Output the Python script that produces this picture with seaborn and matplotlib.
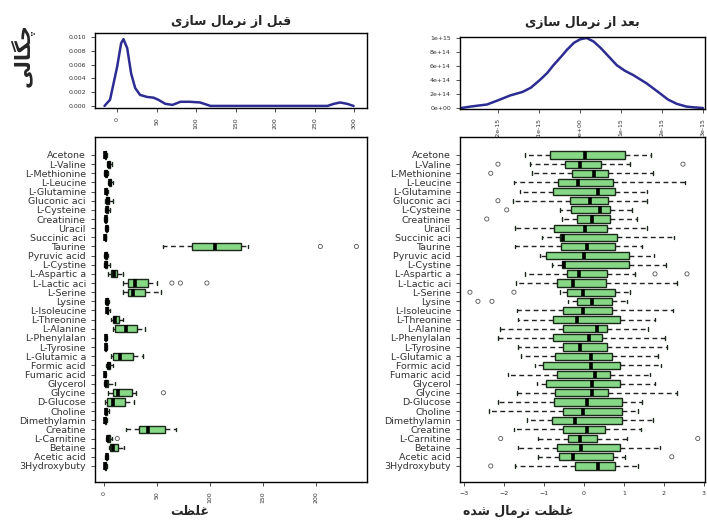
import numpy as np
import pandas as pd
import matplotlib
matplotlib.use("Agg")
import matplotlib.pyplot as plt
import seaborn as sns

# metabolite names, top to bottom (R truncates them to 12 chars)
names = ["Acetone", "L-Valine", "L-Methionine", "L-Leucine", "L-Glutamine",
         "Gluconic aci", "L-Cysteine", "Creatinine", "Uracil", "Succinic aci",
         "Taurine", "Pyruvic acid", "L-Cystine", "L-Aspartic a", "L-Lactic aci",
         "L-Serine", "Lysine", "L-Isoleucine", "L-Threonine", "L-Alanine",
         "L-Phenylalan", "L-Tyrosine", "L-Glutamic a", "Formic acid", "Fumaric acid",
         "Glycerol", "Glycine", "D-Glucose", "Choline", "Dimethylamin",
         "Creatine", "L-Carnitine", "Betaine", "Acetic acid", "3Hydroxybuty"]

# raw concentrations: whisker low, Q1, median, Q3, whisker high
raw_lo = [0.0, 2.5, 0.3, 3.5, 0.5, 0.5, 0.5, 0.0, 1.2, 0.0,
          56, 0.2, 0.2, 4.0, 18, 18, 0.5, 1.5, 7.0, 8.5,
          0.5, 0.5, 6.5, 1.5, 0.0, 0.0, 3.8, 1.0, 0.5, 0.0,
          21, 1.5, 4.5, 1.0, 0.0]
raw_q1 = [0.5, 4.0, 1.2, 4.5, 1.5, 2.0, 1.8, 0.8, 2.0, 0.6,
          83, 0.8, 1.0, 6.5, 23, 23, 1.5, 2.5, 8.0, 10.5,
          1.2, 1.2, 8.5, 3.0, 0.5, 1.0, 8.5, 3.0, 1.2, 0.6,
          33, 2.8, 6.0, 1.8, 0.6]
raw_med = [1.0, 5.0, 2.0, 5.5, 2.2, 3.5, 3.0, 1.5, 2.5, 1.0,
           105, 1.5, 2.0, 9.0, 29, 27, 2.5, 3.2, 10, 21,
           1.6, 1.7, 15, 4.5, 0.9, 2.0, 13, 8.5, 2.0, 1.2,
           41.5, 4.0, 8.0, 2.5, 1.2]
raw_q3 = [1.8, 6.0, 2.8, 6.5, 3.0, 5.0, 4.0, 2.2, 3.0, 1.5,
          129, 2.5, 3.2, 12.5, 41, 39, 3.8, 4.0, 14, 31,
          2.0, 2.1, 27, 6.0, 1.3, 3.5, 26, 20, 3.0, 1.8,
          57.5, 5.5, 13, 3.2, 1.8]
raw_hi = [2.8, 7.5, 3.8, 8.5, 4.0, 8.0, 5.5, 3.0, 4.0, 2.2,
          136, 3.5, 5.5, 18, 50, 54, 5.0, 5.2, 18, 39,
          2.8, 2.8, 37, 8.0, 2.0, 10, 30, 28, 4.5, 2.8,
          68, 7.5, 19, 4.0, 2.6]
raw_out_name = ["Taurine", "Taurine", "L-Lactic aci", "L-Lactic aci", "L-Lactic aci",
                "Glycine", "L-Carnitine"]
raw_out_val = [204, 238, 64, 72, 97, 56, 12.5]

# normalized concentrations
norm_lo = [-1.48, -1.35, -1.30, -1.75, -1.60, -1.78, -0.60, -0.55, -1.73, -1.05,
           -1.73, -1.10, -0.80, -1.48, -1.70, -0.60, -0.40, -1.68, -1.65, -2.10,
           -2.15, -1.65, -1.58, -1.23, -1.90, -1.18, -1.68, -2.15, -2.38, -1.43,
           -1.75, -1.15, -1.65, -1.15, -1.73]
norm_q1 = [-0.85, -0.48, -0.30, -0.65, -0.78, -0.35, -0.33, -0.18, -0.75, -0.60,
           -0.58, -0.95, -0.55, -0.43, -0.68, -0.43, -0.18, -0.53, -0.78, -0.53,
           -0.78, -0.53, -0.73, -1.03, -0.68, -0.95, -0.73, -0.75, -0.53, -0.80,
           -0.53, -0.40, -0.68, -0.63, -0.23]
norm_med = [0.03, -0.10, 0.25, -0.15, 0.35, 0.15, 0.40, 0.20, 0.03, -0.53,
            0.08, 0.00, -0.50, -0.13, -0.28, -0.03, 0.20, -0.03, -0.18, 0.33,
            0.13, -0.10, 0.18, 0.18, 0.28, 0.20, 0.20, 0.08, -0.03, -0.23,
            0.08, -0.10, -0.08, -0.28, 0.35]
norm_q3 = [1.03, 0.43, 0.60, 0.73, 0.78, 0.60, 0.65, 0.65, 0.58, 0.83,
           0.78, 1.13, 1.13, 0.58, 0.55, 0.78, 0.70, 0.70, 0.90, 0.58,
           0.45, 0.58, 0.70, 0.90, 0.65, 0.90, 0.60, 0.95, 0.95, 0.95,
           0.53, 0.33, 0.90, 0.73, 0.78]
norm_hi = [1.68, 1.15, 1.73, 2.53, 1.58, 1.58, 1.20, 1.33, 1.58, 2.25,
           1.45, 1.75, 2.05, 1.28, 2.33, 1.15, 1.08, 2.23, 1.78, 1.60,
           2.03, 2.08, 1.85, 1.93, 1.65, 1.78, 2.33, 1.45, 1.35, 1.73,
           1.43, 1.08, 1.90, 1.03, 1.35]
norm_out_name = ["L-Valine", "L-Valine", "L-Methionine", "Gluconic aci", "L-Cysteine",
                 "Creatinine", "L-Aspartic a", "L-Aspartic a", "L-Serine", "L-Serine",
                 "Lysine", "Lysine", "L-Carnitine", "L-Carnitine", "Acetic acid",
                 "3Hydroxybuty"]
norm_out_val = [-2.15, 2.48, -2.33, -2.15, -1.93,
                -2.43, 1.78, 2.58, -2.85, -1.75,
                -2.65, -2.30, -2.08, 2.85, 2.20,
                -2.33]

# density before normalization
before_x = [-16, -9, 0, 5, 8, 12.7, 17.7, 22.8, 29, 38, 46, 52, 61, 70, 80, 92, 105,
            118, 147, 200, 266, 274, 282, 291, 299]
before_y = [0.0, 0.0009, 0.0057, 0.0091, 0.0097, 0.0084, 0.0047, 0.0026, 0.0016,
            0.0013, 0.0012, 0.0009, 0.0003, 0.00015, 0.0006, 0.0006, 0.0005,
            0.0, 0.0, 0.0, 0.0, 0.0003, 0.0005, 0.0003, 0.0]

# density after normalization (x in 1e-15, y in 1e15)
after_x = [-2.9, -2.68, -2.27, -2.0, -1.7, -1.4, -1.2, -0.98, -0.8, -0.65, -0.45,
           -0.32, -0.15, 0.0, 0.16, 0.33, 0.5, 0.66, 0.9, 1.1, 1.3, 1.63, 1.95,
           2.15, 2.36, 2.6, 2.77, 3.0]
after_y = [0.0, 0.02, 0.05, 0.11, 0.18, 0.23, 0.29, 0.40, 0.50, 0.61, 0.74,
           0.83, 0.93, 0.98, 1.0, 0.95, 0.86, 0.76, 0.61, 0.53, 0.47, 0.35, 0.21,
           0.12, 0.06, 0.02, 0.01, 0.0]

t_before = "قبل از نرمال سازی"
t_after = "بعد از نرمال سازی"
x_raw = "غلظت"
x_norm = "غلظت نرمال شده"
y_dens = "چگالی"

# matplotlib has no arabic shaping, so pick the presentation forms by hand
FORMS = {
    "ا": ("\uFE8D", "\uFE8E", None, None),
    "ب": ("\uFE8F", "\uFE90", "\uFE91", "\uFE92"),
    "ت": ("\uFE95", "\uFE96", "\uFE97", "\uFE98"),
    "د": ("\uFEA9", "\uFEAA", None, None),
    "ر": ("\uFEAD", "\uFEAE", None, None),
    "ز": ("\uFEAF", "\uFEB0", None, None),
    "س": ("\uFEB1", "\uFEB2", "\uFEB3", "\uFEB4"),
    "ش": ("\uFEB5", "\uFEB6", "\uFEB7", "\uFEB8"),
    "ظ": ("\uFEC5", "\uFEC6", "\uFEC7", "\uFEC8"),
    "ع": ("\uFEC9", "\uFECA", "\uFECB", "\uFECC"),
    "غ": ("\uFECD", "\uFECE", "\uFECF", "\uFED0"),
    "ق": ("\uFED5", "\uFED6", "\uFED7", "\uFED8"),
    "ل": ("\uFEDD", "\uFEDE", "\uFEDF", "\uFEE0"),
    "م": ("\uFEE1", "\uFEE2", "\uFEE3", "\uFEE4"),
    "ن": ("\uFEE5", "\uFEE6", "\uFEE7", "\uFEE8"),
    "ه": ("\uFEE9", "\uFEEA", "\uFEEB", "\uFEEC"),
    "ی": ("\uFBFC", "\uFBFD", "\uFBFE", "\uFBFF"),
    "گ": ("\uFB92", "\uFB93", "\uFB94", "\uFB95"),
    "چ": ("\uFB7A", "\uFB7B", "\uFB7C", "\uFB7D"),
}


def fa(s):
    out = []
    for i, ch in enumerate(s):
        if ch not in FORMS:
            out.append(ch)
            continue
        prev = s[i - 1] if i > 0 else ""
        nxt = s[i + 1] if i + 1 < len(s) else ""
        jp = prev in FORMS and FORMS[prev][2] is not None
        jn = nxt in FORMS and FORMS[ch][2] is not None
        f = FORMS[ch]
        if jp and jn:
            out.append(f[3])
        elif jp:
            out.append(f[1])
        elif jn:
            out.append(f[2])
        else:
            out.append(f[0])
    return "".join(out)[::-1]


sns.set_style("ticks")
plt.rcParams["font.family"] = ["DejaVu Sans"]
plt.rcParams["axes.linewidth"] = 1.0

box_fill = "#86d886"
box_edge = "#1a281a"
line_col = "#2c2c92"

fig = plt.figure(figsize=(7.07, 5.26), dpi=100)
ax_tl = fig.add_axes([0.1344, 0.7947, 0.3847, 0.1426])
ax_tr = fig.add_axes([0.6506, 0.7928, 0.3465, 0.1369])
ax_bl = fig.add_axes([0.1344, 0.0837, 0.3847, 0.6559])
ax_br = fig.add_axes([0.6506, 0.0837, 0.3465, 0.6559])

# density before
sns.lineplot(x=before_x, y=before_y, ax=ax_tl, color=line_col, linewidth=1.8)
ax_tl.set_xlim(-28, 316)
ax_tl.set_ylim(-0.0003, 0.0106)
ax_tl.set_xticks(range(0, 301, 50))
ax_tl.set_xticklabels([str(v) for v in range(0, 301, 50)], rotation=90)
yt = [0.0, 0.002, 0.004, 0.006, 0.008, 0.010]
ax_tl.set_yticks(yt)
ax_tl.set_yticklabels(["%.3f" % v for v in yt])
ax_tl.set_title(fa(t_before), fontsize=9, fontweight="bold", pad=6)

# density after
sns.lineplot(x=np.array(after_x) * 1e-15, y=np.array(after_y) * 1e15, ax=ax_tr,
             color=line_col, linewidth=1.8)
ax_tr.set_xlim(-2.93e-15, 3.05e-15)
ax_tr.set_ylim(-0.014e15, 1.014e15)
xt = [v * 1e-15 for v in range(-2, 4)]
ax_tr.set_xticks(xt)
ax_tr.set_xticklabels(["%.0e" % v for v in xt], rotation=90)
yt2 = [v * 0.2e15 for v in range(6)]
ax_tr.set_yticks(yt2)
ax_tr.set_yticklabels(["%.0e" % v for v in yt2])
ax_tr.set_title(fa(t_after), fontsize=9, fontweight="bold", pad=8)

for ax in (ax_tl, ax_tr):
    ax.set(xlabel="", ylabel="")
    ax.tick_params(labelsize=4.5, length=3, width=0.6, colors="#333333")


def draw_boxes(ax, lo, q1, med, q3, hi, out_name, out_val):
    rows = []
    for n, a, b, c, d, e in zip(names, lo, q1, med, q3, hi):
        for v in (a, b, c, d, e):
            rows.append((n, v))
    df = pd.DataFrame(rows, columns=["name", "value"])
    sns.boxplot(data=df, x="value", y="name", order=names, orient="h",
                whis=(0, 100), width=0.78, color=box_fill, linecolor=box_edge,
                linewidth=1.0, saturation=1, showfliers=False, ax=ax,
                medianprops=dict(color="black", linewidth=2.6),
                whiskerprops=dict(linestyle=(0, (3.5, 2.5)), color="#222222"))
    pos = [names.index(n) for n in out_name]
    sns.scatterplot(x=out_val, y=pos, ax=ax, marker="o", s=9,
                    facecolor="none", edgecolor="#555555", linewidth=0.6,
                    legend=False)
    ax.set(xlabel="", ylabel="")
    ax.set_ylim(35.75, -1.97)
    ax.set_yticks(range(len(names)))
    ax.set_yticklabels(names)
    ax.tick_params(axis="y", labelsize=6.8, length=3, width=0.6, colors="#333333")
    ax.tick_params(axis="x", labelsize=4.5, length=3, width=0.6, colors="#333333")


draw_boxes(ax_bl, raw_lo, raw_q1, raw_med, raw_q3, raw_hi, raw_out_name, raw_out_val)
ax_bl.set_xlim(-8.5, 248)
ax_bl.set_xticks(range(0, 201, 50))
ax_bl.set_xticklabels([str(v) for v in range(0, 201, 50)], rotation=90)

draw_boxes(ax_br, norm_lo, norm_q1, norm_med, norm_q3, norm_hi, norm_out_name, norm_out_val)
ax_br.set_xlim(-3.1, 3.03)
ax_br.set_xticks(range(-3, 4))

for ax in (ax_tl, ax_tr, ax_bl, ax_br):
    for sp in ax.spines.values():
        sp.set_visible(True)
        sp.set_color("black")
        sp.set_linewidth(1.0)

fig.text(0.268, 0.015, fa(x_raw), fontsize=9, fontweight="bold", ha="center", va="bottom")
fig.text(0.733, 0.015, fa(x_norm), fontsize=9, fontweight="bold", ha="center", va="bottom")
fig.text(0.032, 0.895, fa(y_dens), fontsize=15, fontweight="bold", rotation=90,
         ha="center", va="center")

fig.savefig("out.png", dpi=100)
